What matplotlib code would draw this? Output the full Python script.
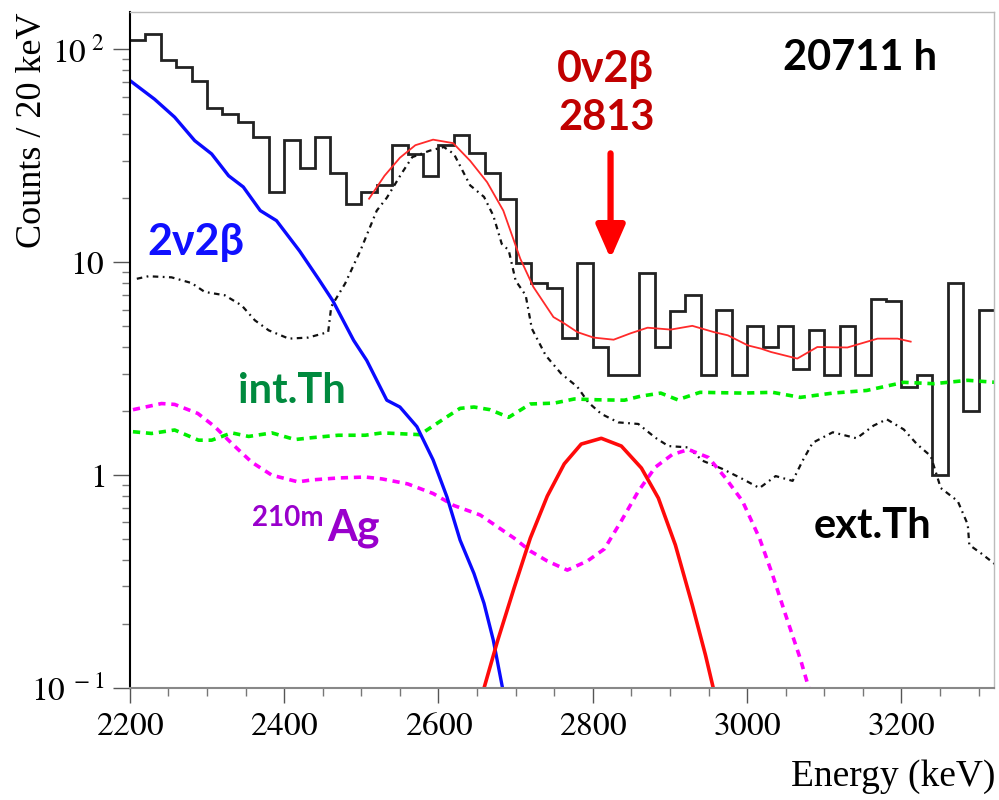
import numpy as np
import matplotlib
matplotlib.use("Agg")
import matplotlib.pyplot as plt
from matplotlib.ticker import (FixedLocator, FixedFormatter, FuncFormatter,
                               MultipleLocator, LogLocator, NullFormatter)

# measured spectrum, 20 keV bins from 2200 keV
bin_edges = np.arange(2200, 3321, 20)
counts = [111, 118, 89, 83, 71, 53, 49.5, 45.6, 38.7, 21.5, 37.7, 27.8, 38.7, 26.3,
          18.7, 21.5, 23, 35.4, 32.4, 25.4, 35.4, 39.7, 32.6, 26.3, 19.9, 9.9, 8.0,
          7.6, 4.4, 9.96, 4.0, 2.97, 2.97, 8.95, 4.0, 5.9, 7.0, 2.97, 5.95, 2.97,
          5.0, 4.0, 5.0, 3.17, 4.8, 2.97, 5.0, 2.97, 6.75, 6.6, 2.6, 2.95, 1.0, 8.0,
          2.0, 6.0]

# total fit
fit_e = [2510, 2530, 2550, 2570, 2593, 2619, 2641, 2663, 2684, 2706, 2723, 2749,
         2762, 2780, 2801, 2827, 2849, 2871, 2901, 2929, 2957, 2975, 3001, 3018,
         3031, 3065, 3091, 3130, 3169, 3195, 3212]
fit_v = [19.9, 25.5, 31.0, 35.5, 37.7, 36.3, 30, 23.8, 17.5, 10.4, 7.66, 5.53,
         5.19, 4.7, 4.43, 4.33, 4.64, 4.93, 4.83, 5.03, 4.7, 4.54, 4.07, 3.93,
         3.79, 3.53, 4.0, 3.98, 4.38, 4.38, 4.24]

# 2nu2beta
bb2_e = [2200, 2232, 2258, 2284, 2306, 2328, 2347, 2369, 2390, 2420, 2445, 2463,
         2490, 2507, 2533, 2550, 2572, 2593, 2611, 2628, 2646, 2659, 2671, 2683]
bb2_v = [71.5, 58.4, 48.1, 37.3, 32.3, 25.5, 22.6, 17.5, 15.7, 11.3, 8.3, 6.6,
         4.3, 3.46, 2.25, 2.09, 1.69, 1.18, 0.79, 0.495, 0.345, 0.25, 0.168, 0.1]

# 0nu2beta
bb0_e = [2658, 2676, 2698, 2719, 2741, 2763, 2785, 2811, 2837, 2863, 2885, 2907,
         2929, 2946, 2957]
bb0_v = [0.097, 0.164, 0.295, 0.506, 0.797, 1.13, 1.40, 1.49, 1.37, 1.08, 0.78,
         0.47, 0.245, 0.143, 0.097]

# 210mAg
ag_e = [2204, 2241, 2258, 2288, 2310, 2332, 2358, 2384, 2418, 2436, 2470, 2505,
        2527, 2560, 2593, 2620, 2654, 2698, 2719, 2741, 2767, 2793, 2815, 2837,
        2859, 2881, 2903, 2924, 2950, 2972, 2994, 3016, 3033, 3050, 3069, 3081]
ag_v = [2.03, 2.17, 2.15, 1.95, 1.69, 1.41, 1.15, 1.0, 0.93, 0.95, 0.97, 0.98,
        0.96, 0.91, 0.82, 0.72, 0.65, 0.506, 0.44, 0.395, 0.358, 0.395, 0.45,
        0.61, 0.84, 1.09, 1.25, 1.32, 1.21, 0.97, 0.755, 0.506, 0.34, 0.22,
        0.137, 0.097]

# internal Th
ith_e = [2204, 2228, 2258, 2289, 2306, 2332, 2354, 2384, 2414, 2436, 2470, 2505,
         2527, 2576, 2609, 2628, 2646, 2667, 2691, 2719, 2750, 2776, 2806, 2841,
         2862, 2888, 2910, 2939, 2994, 3033, 3069, 3111, 3155, 3203, 3242, 3286,
         3322]
ith_v = [1.6, 1.57, 1.63, 1.46, 1.46, 1.58, 1.52, 1.58, 1.47, 1.50, 1.54, 1.54,
         1.58, 1.55, 1.86, 2.06, 2.09, 2.03, 1.87, 2.16, 2.18, 2.28, 2.26, 2.25,
         2.35, 2.43, 2.26, 2.45, 2.43, 2.45, 2.32, 2.43, 2.5, 2.73, 2.69, 2.79,
         2.73]

# external Th
eth_e = [2209, 2224, 2254, 2280, 2297, 2323, 2345, 2362, 2380, 2406, 2431, 2457,
         2461, 2479, 2499, 2520, 2533, 2552, 2566, 2589, 2607, 2620, 2641, 2659,
         2671, 2682, 2691, 2700, 2713, 2721, 2739, 2759, 2780, 2794, 2811, 2833,
         2859, 2881, 2898, 2924, 2942, 2968, 2994, 3016, 3037, 3059, 3072, 3085,
         3111, 3142, 3164, 3181, 3203, 3220, 3238, 3251, 3273, 3286, 3288, 3303,
         3322]
eth_v = [8.37, 8.6, 8.5, 7.99, 7.26, 7.0, 6.27, 5.34, 4.79, 4.38, 4.43, 4.7,
         6.19, 7.95, 11.4, 17.5, 20.1, 26.1, 31.2, 33.5, 34.8, 32.3, 23, 20.3,
         16.6, 12.2, 11.4, 8.2, 7.0, 4.88, 3.65, 3.0, 2.6, 2.2, 1.94, 1.77,
         1.74, 1.5, 1.37, 1.35, 1.17, 1.07, 0.96, 0.87, 0.99, 0.94, 1.17, 1.42,
         1.59, 1.49, 1.71, 1.83, 1.64, 1.40, 1.23, 0.87, 0.755, 0.586, 0.47,
         0.43, 0.38]

serif = "Liberation Serif"
sans = ["Lato", "Noto Sans", "DejaVu Sans"]
plt.rcParams["font.family"] = [serif, "DejaVu Serif"]
plt.rcParams["mathtext.fontset"] = "stix"

fig = plt.figure(figsize=(9.99, 8), dpi=100)
ax = fig.add_axes([0.130, 0.14, 0.865, 0.845])

ax.stairs(counts, bin_edges, color="#222222", lw=2.0, baseline=None)
ax.plot(eth_e, eth_v, color="#111111", lw=1.6, dashes=(2.5, 2.0, 0.8, 2.0))
ax.plot(ith_e, ith_v, color="#00ee00", lw=2.6, dashes=(2.0, 1.6))
ax.plot(ag_e, ag_v, color="#ff00ff", lw=2.6, dashes=(2.0, 1.6))
ax.plot(bb2_e, bb2_v, color="#0a0aff", lw=2.4)
ax.plot(bb0_e, bb0_v, color="#ff0a0a", lw=2.6)
ax.plot(fit_e, fit_v, color="#ff2a2a", lw=1.3)

ax.set_yscale("log")
ax.set_xlim(2200, 3320)
ax.set_ylim(0.1, 150)

ax.yaxis.set_major_locator(FixedLocator([0.1, 1, 10, 100]))
ax.yaxis.set_major_formatter(FixedFormatter([r"$10^{\ -1}$", r"$1\ \ \ \ $",
                                             r"$10\ \ \ \ $", r"$10^{\ 2}$"]))
ax.yaxis.set_minor_locator(LogLocator(base=10, subs=np.arange(2, 10)))
ax.yaxis.set_minor_formatter(NullFormatter())
ax.xaxis.set_major_locator(MultipleLocator(200))
ax.xaxis.set_minor_locator(MultipleLocator(50))
ax.xaxis.set_major_formatter(FuncFormatter(lambda v, _: r"$%d$" % v))

ax.tick_params(which="major", length=11, width=1, color="#555555",
               labelsize=24, pad=6)
ax.tick_params(which="minor", length=6, width=1, color="#777777")
ax.tick_params(axis="y", which="major", length=12)

ax.spines["left"].set_color("black")
ax.spines["left"].set_linewidth(1.5)
ax.spines["bottom"].set_color("#888888")
ax.spines["bottom"].set_linewidth(1.5)
for s in ["top", "right"]:
    ax.spines[s].set_color("#bbbbbb")
    ax.spines[s].set_linewidth(1.0)

fig.text(0.033, 0.985, "Counts / 20 keV", rotation=90, ha="center", va="top",
         fontsize=26)
fig.text(0.996, 0.008, "Energy (keV)", ha="right", va="bottom", fontsize=27)

# annotations
ax.text(2223, 10.8, "2ν2β", color="#1010ff", fontsize=31, fontweight="bold",
        family=sans)
ax.text(2753, 70, "0ν2β", color="#c00000", fontsize=31, fontweight="bold",
        family=sans)
ax.text(2755, 41.7, "2813", color="#c00000", fontsize=30, fontweight="bold",
        family=sans)
ax.text(3047, 79.7, "20711 h", color="black", fontsize=30, fontweight="bold",
        family=sans)
ax.text(2340, 2.18, "int.Th", color="#008a3e", fontsize=30, fontweight="bold",
        family=sans)
ax.text(2358, 0.58, "210m", color="#9900cc", fontsize=20, fontweight="bold",
        family=sans)
ax.text(2456, 0.495, "Ag", color="#9900cc", fontsize=31, fontweight="bold",
        family=sans)
ax.text(3086, 0.506, "ext.Th", color="black", fontsize=30, fontweight="bold",
        family=sans)

ax.annotate("", xy=(2823, 10.4), xytext=(2823, 32.5),
            arrowprops=dict(arrowstyle="-|>,head_length=0.8,head_width=0.35",
                            color="#ff0000", lw=4.5, mutation_scale=25,
                            shrinkA=0, shrinkB=0))

fig.savefig("out.png", dpi=100)
